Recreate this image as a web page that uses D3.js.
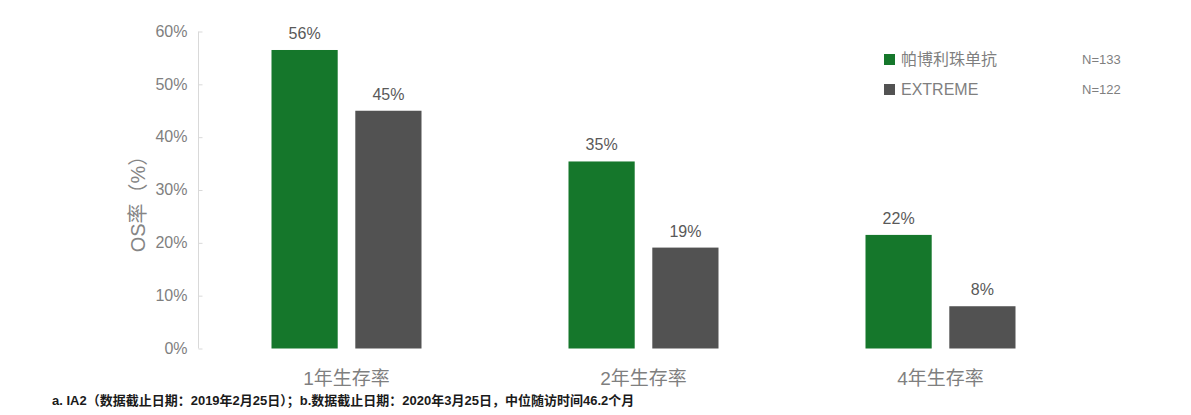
<!DOCTYPE html>
<html>
<head>
<meta charset="utf-8">
<script src="https://cdn.jsdelivr.net/npm/d3@7/dist/d3.min.js"></script>
<style>
  html, body { margin: 0; padding: 0; background: #fff; }
  svg { display: block; font-family: "Liberation Sans", Arial, "Noto Sans CJK SC", sans-serif; }
</style>
</head>
<body>
<svg id="chart" width="1191" height="415"></svg>
<script>
const categories = ["1年生存率", "2年生存率", "4年生存率"];
const seriesNames = ["帕博利珠单抗", "EXTREME"];
const seriesN = ["N=133", "N=122"];
const pembroValues = [56.5, 35.4, 21.5];
const extremeValues = [45.0, 19.1, 8.0];
const pembroLabels = ["56%", "35%", "22%"];
const extremeLabels = ["45%", "19%", "8%"];
const yTicks = [0, 10, 20, 30, 40, 50, 60];
const yTitle = "OS率（%）";
const footnote = "a. IA2（数据截止日期：2019年2月25日）；b.数据截止日期：2020年3月25日，中位随访时间46.2个月";

const colors = ["#15772B", "#525252"];
const svg = d3.select("#chart");

const x0 = d3.scaleBand().domain(categories).range([198, 1089]).paddingInner(0).paddingOuter(0);
const x1 = d3.scaleBand().domain(seriesNames).range([x0.bandwidth()/2 - 75, x0.bandwidth()/2 + 75]).paddingInner(0.21).paddingOuter(0);
const y = d3.scaleLinear().domain([0, 60]).range([348.5, 31.5]);

// Y axis
const yAxis = d3.axisLeft(y).tickValues(yTicks).tickFormat(d => d + "%").tickSize(-4).tickPadding(11);
const ya = svg.append("g").attr("transform", "translate(198.5,0)").call(yAxis);
ya.select(".domain").attr("stroke", "#d9d9d9").attr("d", `M0,${y(60)}V${y(0)}`);
ya.selectAll(".tick line").attr("stroke", "#d9d9d9");
ya.selectAll(".tick text").attr("fill", "#7f7f7f").style("font-size", "16px").attr("dy", "0.3em");

// Y title
svg.append("text")
  .attr("transform", `translate(145,199) rotate(-90)`)
  .attr("text-anchor", "middle")
  .attr("fill", "#858585")
  .style("font-size", "20px")
  .text(yTitle);

const data = categories.map((c, i) => ({
  cat: c,
  vals: [
    {s: seriesNames[0], v: pembroValues[i], lab: pembroLabels[i], col: colors[0]},
    {s: seriesNames[1], v: extremeValues[i], lab: extremeLabels[i], col: colors[1]}
  ]
}));

const g = svg.append("g").selectAll("g").data(data).join("g")
  .attr("transform", d => `translate(${x0(d.cat)},0)`);

g.selectAll("rect").data(d => d.vals).join("rect")
  .attr("x", d => x1(d.s))
  .attr("width", x1.bandwidth())
  .attr("y", d => y(d.v))
  .attr("height", d => y(0) - y(d.v))
  .attr("fill", d => d.col);

g.selectAll("text.val").data(d => d.vals).join("text")
  .attr("class", "val")
  .attr("x", d => x1(d.s) + x1.bandwidth()/2)
  .attr("y", d => y(d.v) - 11)
  .attr("text-anchor", "middle")
  .attr("fill", "#595959")
  .style("font-size", "16px")
  .text(d => d.lab);

// X category labels
svg.append("g").selectAll("text").data(categories).join("text")
  .attr("x", d => x0(d) + x0.bandwidth()/2)
  .attr("y", 385)
  .attr("text-anchor", "middle")
  .attr("fill", "#7f7f7f")
  .style("font-size", "19px")
  .text(d => d);

// Legend
const leg = svg.append("g").selectAll("g").data(seriesNames).join("g")
  .attr("transform", (d, i) => `translate(884,${54 + i * 30})`);
leg.append("rect").attr("width", 11).attr("height", 11).attr("fill", (d, i) => colors[i]);
leg.append("text").attr("x", 17).attr("y", 5.5).attr("dy", "0.35em")
  .attr("fill", "#7f7f7f").style("font-size", "16px").text(d => d);
leg.append("text").attr("x", 198).attr("y", 5.5).attr("dy", "0.35em")
  .attr("fill", "#7f7f7f").style("font-size", "13px").text((d, i) => seriesN[i]);

// Footnote
svg.append("text")
  .attr("x", 52).attr("y", 405)
  .attr("fill", "#1a1a1a")
  .style("font-size", "13px")
  .style("font-weight", "bold")
  .text(footnote);
</script>
</body>
</html>
